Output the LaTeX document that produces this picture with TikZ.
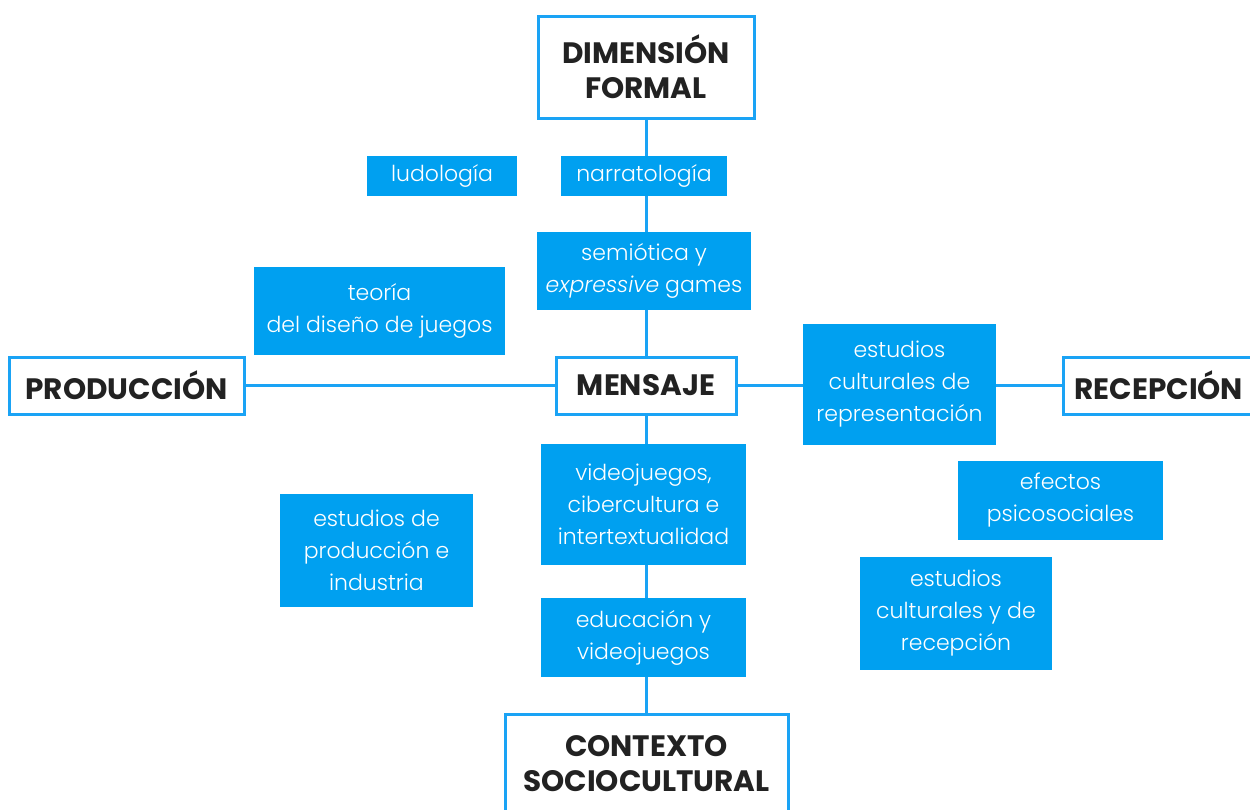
\documentclass[tikz,border=0pt]{standalone}
\usepackage{fontspec}
\setmainfont{Poppins}[UprightFont=* Light, ItalicFont=* Light Italic]
\newfontfamily\labfont{Poppins}[UprightFont=* Bold]
\usetikzlibrary{backgrounds}
\definecolor{bfill}{RGB}{0,160,240}
\definecolor{bline}{RGB}{26,163,245}
\definecolor{tdark}{RGB}{34,34,34}
\tikzset{
  main/.style={draw=bline, line width=3pt, fill=white, text=tdark, align=center,
    font=\labfont\fontsize{29.5}{35}\selectfont, inner sep=0pt},
  topic/.style={fill=bfill, text=white, align=center, inner sep=0pt,
    font=\fontsize{22}{32}\selectfont},
  conn/.style={draw=bline, line width=3pt}
}
\begin{document}
\begin{tikzpicture}[x=1pt,y=-1pt]
\useasboundingbox (0,0) rectangle (1250,809);
\node[main, minimum width=216, minimum height=102] (dim) at (646,67) {DIMENSIÓN\\FORMAL};
\node[topic, minimum width=150, minimum height=40] (ludo) at (442,176) {ludología};
\node[topic, minimum width=166, minimum height=40] (narr) at (644,176) {narratología};
\node[topic, minimum width=214, minimum height=78] (semi) at (644,271) {semiótica y\\\textit{expressive} games};
\node[topic, minimum width=251, minimum height=88] (teo) at (379.5,311) {teoría\\del diseño de juegos};
\node[main, minimum width=235, minimum height=57] (prod) at (126.5,385.5) {PRODUCCIÓN};
\node[main, minimum width=180, minimum height=57] (mens) at (646,385.5) {MENSAJE};
\node[topic, minimum width=193, minimum height=121] (ecr) at (899.5,384.5) {estudios\\culturales de\\representación};
\node[main, minimum height=57, anchor=west, text width=200, align=left, inner xsep=11pt] (rec) at (1062,385.5) {RECEPCIÓN};
\node[topic, minimum width=205, minimum height=121] (vid) at (643.5,504.5) {videojuegos,\\cibercultura e\\intertextualidad};
\node[topic, minimum width=205, minimum height=79] (efe) at (1060.5,500.5) {efectos\\psicosociales};
\node[topic, minimum width=193, minimum height=113] (epi) at (376.5,550.5) {estudios de\\producción e\\industria};
\node[topic, minimum width=205, minimum height=79] (edu) at (643.5,637.5) {educación y\\videojuegos};
\node[topic, minimum width=192, minimum height=113] (ecyr) at (956,613.5) {estudios\\culturales y de\\recepción};
\node[main, minimum width=283, minimum height=100] (ctx) at (646.5,764) {CONTEXTO\\SOCIOCULTURAL};
\begin{scope}[on background layer]
\draw[conn] (dim.south) -- (dim.south |- ctx.north);
\draw[conn] (prod.east) -- (mens.west);
\draw[conn] (mens.east) -- (mens.east -| ecr.west);
\draw[conn] (mens.east -| ecr.east) -- (rec.west);
\end{scope}
\end{tikzpicture}
\end{document}
